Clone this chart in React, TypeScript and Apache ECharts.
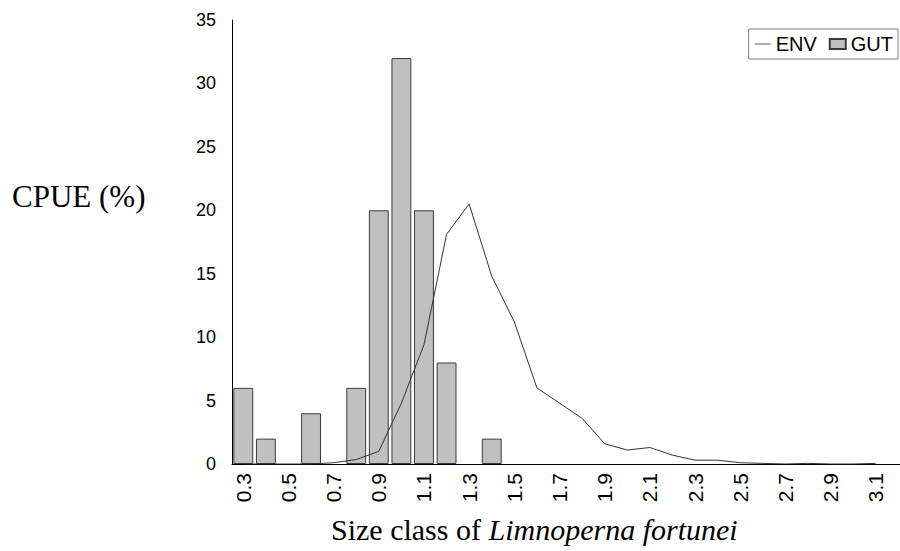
import React, { useEffect, useRef } from "react";
import * as echarts from "echarts";

const categories = ["0.3","0.4","0.5","0.6","0.7","0.8","0.9","1.0","1.1","1.2","1.3","1.4","1.5","1.6","1.7","1.8","1.9","2.0","2.1","2.2","2.3","2.4","2.5","2.6","2.7","2.8","2.9","3.0","3.1"];
const gutValues = [6,2,null,4,null,6,20,32,20,8,null,2,null,null,null,null,null,null,null,null,null,null,null,null,null,null,null,null,null];
const envValues = [0,0,0,0,0.1,0.35,1.0,4.8,9.4,18.1,20.5,14.8,11.2,6.0,4.8,3.6,1.6,1.1,1.3,0.7,0.3,0.3,0.1,0.05,0,0.05,0,0,0.05];
const yTicks = { min: 0, max: 35, interval: 5 };

export default function App() {
  const ref = useRef<HTMLDivElement>(null);
  useEffect(() => {
    const chart = echarts.init(ref.current!, null, { renderer: "svg" });
    const sans = "Liberation Sans, Arial, sans-serif";
    const serif = "Liberation Serif, Times New Roman, serif";
    chart.setOption({
      animation: false,
      backgroundColor: "#ffffff",
      grid: { left: 232, right: 13, top: 20, bottom: 87, containLabel: false },
      legend: {
        right: 2,
        top: 29,
        orient: "horizontal",
        borderColor: "#808080",
        borderWidth: 1,
        padding: [5, 5, 5, 6],
        itemGap: 12,
        itemWidth: 16,
        itemHeight: 10,
        textStyle: { fontFamily: sans, fontSize: 20, color: "#000" },
        data: [
          { name: "ENV", icon: "path://M0,0L20,0L20,1L0,1Z" },
          { name: "GUT", icon: "rect" },
        ],
      },
      xAxis: {
        type: "category",
        data: categories,
        boundaryGap: true,
        axisLine: { lineStyle: { color: "#000", width: 1 } },
        axisTick: { show: false },
        axisLabel: {
          interval: 1,
          rotate: 90,
          margin: 9,
          fontFamily: sans,
          fontSize: 21,
          color: "#000",
        },
        splitLine: { show: false },
      },
      yAxis: {
        type: "value",
        min: yTicks.min,
        max: yTicks.max,
        interval: yTicks.interval,
        axisLine: { show: true, lineStyle: { color: "#000", width: 1 } },
        axisTick: { show: false },
        axisLabel: { margin: 16, fontFamily: sans, fontSize: 18, color: "#000" },
        splitLine: { show: false },
      },
      series: [
        {
          name: "GUT",
          type: "bar",
          data: gutValues,
          barCategoryGap: "12%",
          itemStyle: { color: "#c0c0c0", borderColor: "#3a3a3a", borderWidth: 1 },
        },
        {
          name: "ENV",
          type: "line",
          data: envValues,
          symbol: "none",
          showSymbol: false,
          lineStyle: { color: "#333333", width: 1 },
          itemStyle: { color: "#333333" },
        },
      ],
      graphic: [
        {
          type: "line",
          shape: { x1: 886, y1: 464.5, x2: 900, y2: 464.5 },
          style: { stroke: "#000", lineWidth: 1 },
        },
        {
          type: "text",
          x: 12,
          y: 196,
          style: { text: "CPUE (%)", font: `31px ${serif}`, fill: "#000", verticalAlign: "middle" },
        },
        {
          type: "text",
          x: 331,
          y: 529,
          style: {
            text: "{a|Size class of }{b|Limnoperna fortunei}",
            verticalAlign: "middle",
            rich: {
              a: { font: `30px ${serif}`, fill: "#000" },
              b: { font: `italic 30px ${serif}`, fill: "#000" },
            },
          },
        },
      ],
    });
    return () => chart.dispose();
  }, []);
  return <div ref={ref} style={{ width: 900, height: 551, position: "absolute", left: 0, top: 0 }} />;
}
